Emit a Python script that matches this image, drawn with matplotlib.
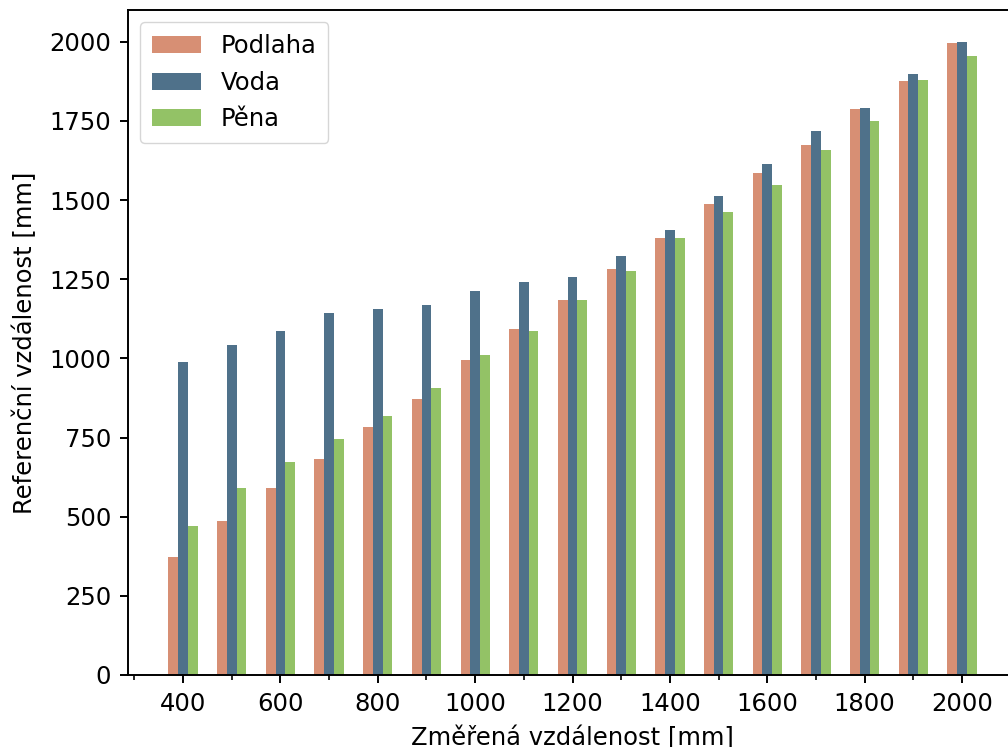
import numpy as np
import matplotlib
matplotlib.use("Agg")
import matplotlib.pyplot as plt
from matplotlib.ticker import MultipleLocator

# --- data ---
measured = [400, 500, 600, 700, 800, 900, 1000, 1100, 1200, 1300, 1400,
            1500, 1600, 1700, 1800, 1900, 2000]
podlaha = [373, 487, 591, 682, 784, 872, 995, 1093, 1186, 1283, 1381,
           1488, 1586, 1675, 1788, 1877, 1997]
voda = [989, 1043, 1087, 1144, 1156, 1169, 1213, 1242, 1257, 1324, 1406,
        1513, 1614, 1719, 1792, 1899, 2000]
pena = [471, 591, 673, 746, 818, 907, 1011, 1087, 1186, 1276, 1381,
        1463, 1548, 1659, 1750, 1880, 1956]
labels = ["Podlaha", "Voda", "Pěna"]
colors = ["#d78f74", "#4f718a", "#93c266"]

plt.rcParams["font.family"] = ["DejaVu Sans"]
plt.rcParams["font.size"] = 17.5

fig = plt.figure(figsize=(10.08, 7.47), dpi=100)
ax = fig.add_axes([0.127, 0.0964, 0.882, 0.890])

x = np.array(measured)
w = 20
for i, (vals, lab, c) in enumerate(zip([podlaha, voda, pena], labels, colors)):
    ax.bar(x + (i - 1) * w, vals, width=w, color=c, label=lab)

ax.set_xticks(np.arange(400, 2001, 200))
ax.xaxis.set_minor_locator(MultipleLocator(100))
ax.set_yticks(np.arange(0, 2001, 250))
ax.set_xlabel("Změřená vzdálenost [mm]", labelpad=7)
ax.set_ylabel("Referenční vzdálenost [mm]", labelpad=9)

for s in ax.spines.values():
    s.set_linewidth(1.4)
ax.tick_params(which="major", length=6, width=1.4, pad=6)
ax.tick_params(which="minor", length=3.5, width=1.2)

ax.legend(loc="upper left", handlelength=2.0, borderpad=0.5)

fig.savefig("out.png", dpi=100)
